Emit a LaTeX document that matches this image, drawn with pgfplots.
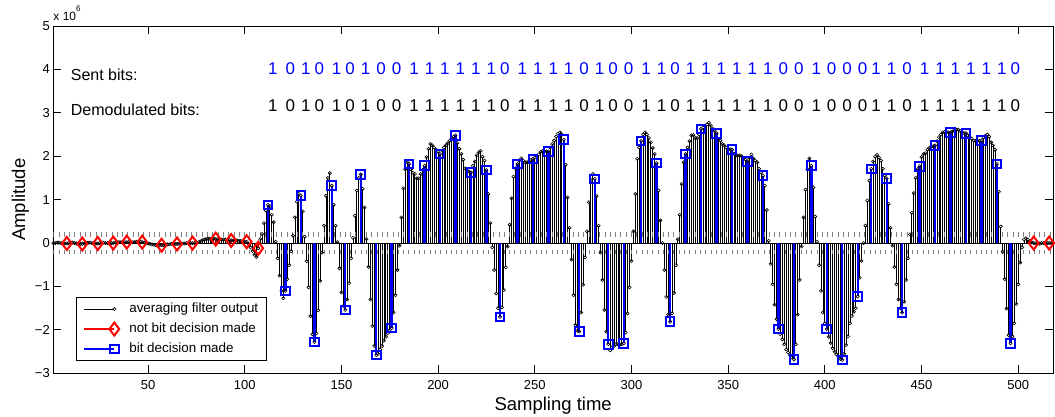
\documentclass[border=0pt]{standalone}
\usepackage{fontspec}
\setmainfont{Liberation Sans}
\usepackage{pgfplots}
\pgfplotsset{compat=1.18}

\newcommand\tickfont{\fontsize{13}{13}\selectfont}
\newcommand\labfont{\fontsize{18.5}{18.5}\selectfont}
\newcommand\txtfont{\fontsize{16}{16}\selectfont}
\newcommand\bitfont{\fontsize{17}{17}\selectfont}
\newcommand\legfont{\fontsize{13.4}{13.4}\selectfont}

% stem legend: horizontal line with the marker at its right end
\pgfplotsset{
  stemlegend/.style={legend image code/.code={
    \path[draw=none, fill=none] (0pt,-4pt) -- (36pt,4pt);
    \draw[##1, mark indices={2}] plot coordinates {(0pt,0pt) (30pt,0pt)};}}
}

\begin{document}
\begin{tikzpicture}
\useasboundingbox (-53.3pt,-42.7pt) rectangle (1001.7pt,373.3pt);
\begin{axis}[
  name=ax,
  scale only axis, width=999.7pt, height=347.3pt,
  xmin=1, xmax=518, ymin=-3, ymax=5,
  xtick={50,100,...,500},
  ytick={-3,-2,...,5},
  yticklabels={−3,−2,−1,0,1,2,3,4,5},
  /pgf/number format/assume math mode=true,
  tick align=inside, xtick pos=both, ytick pos=both,
  major tick length=8pt,
  every tick/.style={black, line width=0.9pt},
  axis line style={line width=0.9pt},
  xticklabel style={font=\tickfont, yshift=-4pt},
  yticklabel style={font=\tickfont},
  xlabel={Sampling time}, ylabel={Amplitude},
  xlabel style={font=\labfont, at={(axis description cs:0.5,-0.1057)}, anchor=base},
  ylabel style={font=\labfont, at={(axis description cs:-0.0283,0.5)}, anchor=base},
  legend cell align=left,
  legend style={at={(0.0224,0.0354)}, anchor=south west, draw=black, line width=0.9pt,
    font=\legfont, inner xsep=7pt, inner ysep=1.5pt, row sep=0pt,
    nodes={inner xsep=1pt, inner ysep=3.5pt, text height=10pt, text depth=3pt},
    /tikz/every odd column/.append style={column sep=8pt}},
]
% averaging filter output (stems)
\addplot[forget plot, ycomb, draw=black, line width=0.8pt, mark=o, mark size=1.6pt,
  mark options={draw=black, line width=0.6pt}] coordinates {
(1,0)(2,0)(3,0.01)(4,0.01)(5,0)(6,-0.01)(7,-0.01)(8,-0.01)(9,0)(10,0.01)
(11,0.01)(12,0)(13,-0.01)(14,-0.02)(15,-0.02)(16,-0.02)(17,-0.01)(18,0)(19,0.01)(20,0.01)
(21,0)(22,-0.01)(23,-0.01)(24,-0.01)(25,0)(26,0)(27,0.01)(28,0)(29,0)(30,-0.01)
(31,0)(32,0)(33,0.01)(34,0.02)(35,0.02)(36,0.02)(37,0.02)(38,0.02)(39,0.02)(40,0.02)
(41,0.02)(42,0.02)(43,0.02)(44,0.03)(45,0.03)(46,0.03)(47,0.02)(48,0.01)(49,0)(50,-0.01)
(51,-0.02)(52,-0.03)(53,-0.04)(54,-0.05)(55,-0.05)(56,-0.05)(57,-0.05)(58,-0.05)(59,-0.04)(60,-0.03)
(61,-0.03)(62,-0.02)(63,-0.02)(64,-0.02)(65,-0.02)(66,-0.02)(67,-0.01)(68,-0.01)(69,-0.01)(70,0)
(71,0)(72,0)(73,0)(74,0)(75,0.01)(76,0.02)(77,0.04)(78,0.06)(79,0.08)(80,0.09)
(81,0.1)(82,0.1)(83,0.1)(84,0.1)(85,0.09)(86,0.09)(87,0.08)(88,0.08)(89,0.08)(90,0.08)
(91,0.07)(92,0.07)(93,0.06)(94,0.06)(95,0.06)(96,0.06)(97,0.05)(98,0.05)(99,0.04)(100,0.03)
(101,0.03)(102,-0.02)(103,-0.1)(104,-0.18)(105,-0.27)(106,-0.32)(107,-0.12)(108,0.09)(109,0.21)(110,0.46)
(111,0.75)(112,0.88)(113,0.85)(114,0.65)(115,0.48)(116,0.03)(117,-0.35)(118,-0.75)(119,-1.1)(120,-1.27)
(121,-1.1)(122,-0.83)(123,-0.51)(124,-0.19)(125,0.17)(126,0.59)(127,0.95)(128,1.13)(129,1.09)(130,0.73)
(131,0.15)(132,-0.42)(133,-1.02)(134,-1.68)(135,-2.1)(136,-2.28)(137,-2.08)(138,-1.55)(139,-0.87)(140,-0.22)
(141,0.4)(142,1.09)(143,1.5)(144,1.61)(145,1.32)(146,0.88)(147,0.4)(148,0.02)(149,-0.58)(150,-1.14)
(151,-1.45)(152,-1.54)(153,-1.3)(154,-0.92)(155,-0.35)(156,0.12)(157,0.63)(158,1.21)(159,1.5)(160,1.58)
(161,1.25)(162,0.82)(163,0.09)(164,-0.55)(165,-1.3)(166,-1.91)(167,-2.37)(168,-2.58)(169,-2.55)(170,-2.45)
(171,-2.37)(172,-2.25)(173,-2.16)(174,-2.08)(175,-2)(176,-1.96)(177,-1.6)(178,-1.2)(179,-0.62)(180,-0.06)
(181,0.59)(182,1.26)(183,1.7)(184,1.86)(185,1.82)(186,1.7)(187,1.62)(188,1.59)(189,1.49)(190,1.49)
(191,1.59)(192,1.68)(193,1.78)(194,1.98)(195,2.17)(196,2.28)(197,2.25)(198,2.2)(199,2.15)(200,2.1)
(201,2.05)(202,2.13)(203,2.2)(204,2.25)(205,2.3)(206,2.36)(207,2.4)(208,2.45)(209,2.48)(210,2.3)
(211,2.17)(212,2.05)(213,1.92)(214,1.72)(215,1.66)(216,1.65)(217,1.63)(218,1.78)(219,1.88)(220,2.02)
(221,2.09)(222,2.12)(223,1.99)(224,1.9)(225,1.68)(226,1.13)(227,0.46)(228,-0.1)(229,-0.62)(230,-1.16)
(231,-1.5)(232,-1.7)(233,-1.48)(234,-1.08)(235,-0.56)(236,-0.08)(237,0.42)(238,1.03)(239,1.53)(240,1.72)
(241,1.82)(242,1.9)(243,1.95)(244,1.9)(245,1.86)(246,1.86)(247,1.88)(248,1.91)(249,1.94)(250,1.97)
(251,2)(252,2.04)(253,2.1)(254,2.12)(255,2.12)(256,2.11)(257,2.11)(258,2.2)(259,2.28)(260,2.36)
(261,2.45)(262,2.52)(263,2.55)(264,2.5)(265,2.38)(266,1.8)(267,1.05)(268,0.35)(269,-0.38)(270,-1.2)
(271,-1.89)(272,-2.02)(273,-2.04)(274,-1.6)(275,-0.96)(276,-0.33)(277,0.27)(278,0.94)(279,1.45)(280,1.59)
(281,1.48)(282,1.08)(283,0.4)(284,-0.22)(285,-0.85)(286,-1.54)(287,-2.04)(288,-2.33)(289,-2.47)(290,-2.4)
(291,-2.37)(292,-2.33)(293,-2.33)(294,-2.34)(295,-2.33)(296,-2.31)(297,-2.06)(298,-1.62)(299,-1.02)(300,-0.41)
(301,0.27)(302,1.13)(303,1.94)(304,2.2)(305,2.35)(306,2.5)(307,2.55)(308,2.5)(309,2.42)(310,2.32)
(311,2.19)(312,2.05)(313,1.84)(314,1.21)(315,0.52)(316,0)(317,-0.62)(318,-1.24)(319,-1.65)(320,-1.81)
(321,-1.62)(322,-1.15)(323,-0.51)(324,0.09)(325,0.65)(326,1.36)(327,1.86)(328,2.05)(329,2.2)(330,2.35)
(331,2.48)(332,2.49)(333,2.42)(334,2.42)(335,2.5)(336,2.63)(337,2.66)(338,2.7)(339,2.73)(340,2.77)
(341,2.71)(342,2.64)(343,2.58)(344,2.53)(345,2.4)(346,2.36)(347,2.28)(348,2.25)(349,2.2)(350,2.17)
(351,2.16)(352,2.15)(353,2.06)(354,2.02)(355,2.02)(356,2.02)(357,2)(358,1.96)(359,1.92)(360,1.88)
(361,1.96)(362,2.04)(363,1.95)(364,1.9)(365,1.86)(366,1.71)(367,1.62)(368,1.55)(369,1.32)(370,0.76)
(371,0.05)(372,-0.48)(373,-0.95)(374,-1.42)(375,-1.75)(376,-1.98)(377,-2.1)(378,-2.22)(379,-2.33)(380,-2.45)
(381,-2.52)(382,-2.58)(383,-2.64)(384,-2.68)(385,-2.33)(386,-1.65)(387,-0.85)(388,-0.08)(389,0.59)(390,1.23)
(391,1.7)(392,1.95)(393,1.78)(394,1.28)(395,0.61)(396,0.03)(397,-0.51)(398,-1.1)(399,-1.6)(400,-1.85)
(401,-1.98)(402,-2.16)(403,-2.3)(404,-2.42)(405,-2.5)(406,-2.56)(407,-2.62)(408,-2.67)(409,-2.69)(410,-2.55)
(411,-2.35)(412,-2.15)(413,-1.85)(414,-1.68)(415,-1.58)(416,-1.5)(417,-1.23)(418,-0.8)(419,-0.41)(420,0)
(421,0.4)(422,0.98)(423,1.44)(424,1.71)(425,1.88)(426,1.99)(427,2.03)(428,1.97)(429,1.9)(430,1.71)
(431,1.55)(432,1.49)(433,0.9)(434,0.35)(435,-0.06)(436,-0.55)(437,-0.95)(438,-1.3)(439,-1.5)(440,-1.6)
(441,-1.35)(442,-0.85)(443,-0.35)(444,0.2)(445,0.7)(446,1.15)(447,1.5)(448,1.7)(449,1.77)(450,1.98)
(451,2.05)(452,2.07)(453,2.15)(454,2.19)(455,2.21)(456,2.23)(457,2.25)(458,2.35)(459,2.44)(460,2.5)
(461,2.55)(462,2.56)(463,2.56)(464,2.55)(465,2.55)(466,2.57)(467,2.59)(468,2.61)(469,2.61)(470,2.58)
(471,2.55)(472,2.53)(473,2.53)(474,2.48)(475,2.44)(476,2.4)(477,2.36)(478,2.35)(479,2.35)(480,2.36)
(481,2.36)(482,2.42)(483,2.47)(484,2.5)(485,2.45)(486,2.32)(487,2.25)(488,2.15)(489,1.82)(490,1.18)
(491,0.38)(492,-0.2)(493,-0.83)(494,-1.51)(495,-2.12)(496,-2.31)(497,-2.15)(498,-1.85)(499,-1.4)(500,-0.95)
(501,-0.45)(502,-0.1)(503,0.08)(504,0.11)(505,0.08)(506,0.04)(507,0.02)(508,0)(509,-0.01)(510,-0.02)
(511,-0.01)(512,0)(513,0)(514,0)(515,0)(516,0)(517,0)(518,0)
};
% stem baseline and decision thresholds
\addplot[forget plot, black, line width=0.6pt] coordinates {(1,0)(518,0)};
\addplot[forget plot, black!50, line width=4.5pt, dash pattern=on 1pt off 4.3pt] coordinates {(1,0.2)(518,0.2)};
\addplot[forget plot, black!50, line width=4.5pt, dash pattern=on 1pt off 4.3pt] coordinates {(1,-0.2)(518,-0.2)};
% no bit decision
\addplot[forget plot, ycomb, draw=red, line width=2pt, mark=diamond, mark size=6.5pt,
  mark options={draw=red, line width=2pt}] coordinates {
(8,-0.01)(16,-0.02)(24,-0.01)(32,0)(39,0.02)(47,0.02)(57,-0.05)(65,-0.02)(73,0)(85,0.09)
(93,0.06)(101,0.03)(107,-0.12)(508,0)(516,0)
};
% bit decisions
\addplot[forget plot, ycomb, draw=blue, line width=2.4pt, mark=square, mark size=4.3pt,
  mark options={draw=blue, line width=2pt}] coordinates {
(112,0.88)(121,-1.1)(129,1.09)(136,-2.28)(145,1.32)(152,-1.54)(160,1.58)(168,-2.58)(176,-1.96)(185,1.82)
(193,1.78)(201,2.05)(209,2.48)(217,1.63)(225,1.68)(232,-1.7)(241,1.82)(249,1.94)(257,2.11)(265,2.38)
(273,-2.04)(281,1.48)(288,-2.33)(296,-2.31)(305,2.35)(313,1.84)(320,-1.81)(328,2.05)(336,2.63)(344,2.53)
(352,2.15)(360,1.88)(368,1.55)(376,-1.98)(384,-2.68)(393,1.78)(401,-1.98)(409,-2.69)(417,-1.23)(424,1.71)
(432,1.49)(440,-1.6)(449,1.77)(457,2.25)(465,2.55)(473,2.53)(481,2.36)(489,1.82)(496,-2.31)
};

\addlegendimage{draw=black, line width=0.6pt, mark=o, mark size=1.6pt, mark options={draw=black, line width=0.6pt}, stemlegend}
\addlegendentry{averaging filter output}
\addlegendimage{draw=red, line width=2pt, mark=diamond, mark size=6.5pt, mark options={draw=red, line width=2pt}, stemlegend}
\addlegendentry{not bit decision made}
\addlegendimage{draw=blue, line width=2.4pt, mark=square, mark size=4.3pt, mark options={draw=blue, line width=2pt}, stemlegend}
\addlegendentry{bit decision made}

\node[anchor=base west, inner sep=0pt, font=\txtfont] at (axis cs:10,3.756) {Sent bits:};
\node[anchor=base west, inner sep=0pt, font=\txtfont] at (axis cs:10,2.95) {Demodulated bits:};
\foreach \x/\b in {112/1,121/0,129/1,136/0,145/1,152/0,160/1,168/0,176/0,185/1,193/1,201/1,209/1,
  217/1,225/1,232/0,241/1,249/1,257/1,265/1,273/0,281/1,288/0,296/0,305/1,313/1,320/0,328/1,336/1,
  344/1,352/1,360/1,368/1,376/0,384/0,393/1,401/0,409/0,417/0,424/1,432/1,440/0,449/1,457/1,465/1,
  473/1,481/1,489/1,496/0}{
  \edef\tmp{\noexpand\node[anchor=base west, inner sep=0pt, font=\noexpand\bitfont, text=blue]
    at (axis cs:\x,3.872) {\b};
    \noexpand\node[anchor=base west, inner sep=0pt, font=\noexpand\bitfont, text=black]
    at (axis cs:\x,3.026) {\b};}
  \tmp
}
\end{axis}
\node[anchor=base west, inner sep=0pt] at ([yshift=6pt]ax.north west)
  {\fontsize{12}{12}\selectfont x 10\raisebox{9pt}{\fontsize{8}{8}\selectfont 6}};
\end{tikzpicture}
\end{document}
